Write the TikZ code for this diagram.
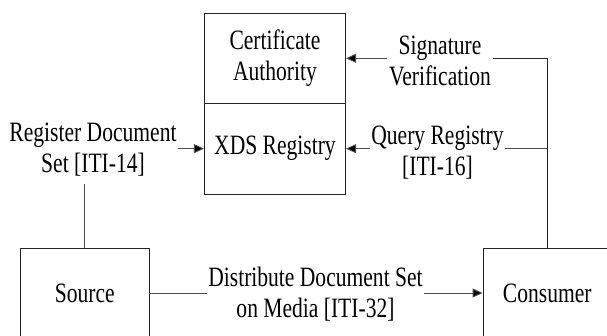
\documentclass[tikz,border=0pt]{standalone}
\usepackage{fontspec}
\setmainfont{Liberation Serif}[FakeStretch=0.77]
\usetikzlibrary{arrows.meta}
\begin{document}
\begin{tikzpicture}[x=1pt, y=1pt, every node/.style={font=\fontsize{28}{31}\selectfont},
  box/.style={draw=black!85,line width=0.9pt,minimum width=141.3pt,minimum height=90pt,inner sep=0pt,align=center},
  blk/.style={draw=black!85,line width=0.9pt,minimum width=128.5pt,minimum height=89.4pt,inner sep=0pt},
  lbl/.style={align=center,inner sep=1.5pt},
  link/.style={draw=black!70,line width=0.9pt},
  arr/.style={link,-{Triangle[length=10pt,width=9pt,fill=black]}}]
\useasboundingbox (0,0) rectangle (607,336);
\node[box] (ca) at (275,277.7) {Certificate\\Authority};
\node[box,minimum height=90.7pt] (xds) at (275,187.35) {XDS Registry};
\node[blk] (src) at (84.75,43) {Source};
\node[blk] (con) at (547.3,43) {Consumer};
% labels
\node[lbl] (reg) at (93,186) {Register Document\\Set [ITI-14]};
\node[lbl] (sig) at (440,275.5) {Signature\\Verification};
\node[lbl] (qry) at (437.5,183.5) {Query Registry\\{[ITI-16]}};
\node[lbl] (dst) at (315.5,42) {Distribute Document Set\\on Media [ITI-32]};
% connectors
\draw[link] (src.north) -- ([yshift=-6pt]src.north |- reg.south);
\draw[arr] (reg.east |- xds.west) -- (xds.west);
\draw[link,draw=black!85] (con.north) |- (sig.east |- ca.east);
\draw[arr] (sig.west |- ca.east) -- (ca.east);
\draw[link] (qry.east |- xds.east) -- (con.north |- xds.east);
\draw[arr] (qry.west |- xds.east) -- (xds.east);
\draw[link] (src.east) -- (dst.west |- src.east);
\draw[arr] (dst.east |- con.west) -- (con.west);
\end{tikzpicture}
\end{document}
